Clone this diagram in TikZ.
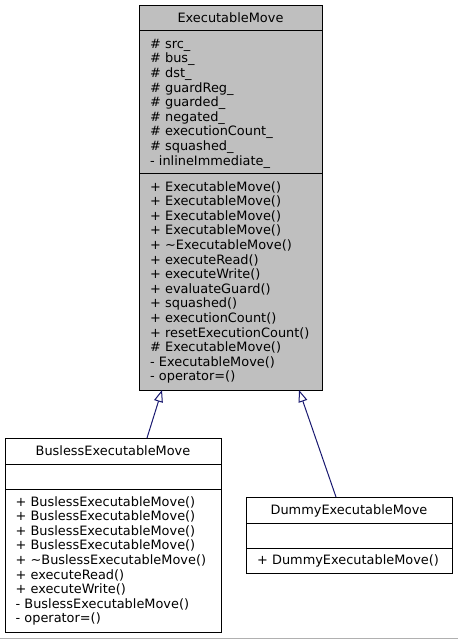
\documentclass[tikz,border=0pt]{standalone}
\usepackage{fontspec}
\setmainfont{DejaVu Sans}
\usetikzlibrary{arrows.meta}
\definecolor{edgeblue}{RGB}{25,25,112}
\definecolor{hilite}{RGB}{191,191,191}
\definecolor{bottomline}{RGB}{176,176,176}
\begin{document}
\begin{tikzpicture}[x=1pt,y=-1pt,
  box/.style={draw=black, line width=1pt, inner sep=0pt, anchor=north west},
  lbl/.style={inner sep=0pt, anchor=base west, font=\fontsize{12.9}{14.6}\selectfont},
  ttl/.style={inner sep=0pt, anchor=base, font=\fontsize{12.9}{14.6}\selectfont},
  sep/.style={draw=black, line width=1pt},
  inh/.style={draw=edgeblue, line width=1pt, -{Triangle[length=12pt,width=9pt,fill=white]}}]
\useasboundingbox (0,0) rectangle (458,639);
% main class
\node[box, fill=hilite, minimum width=183pt, minimum height=385pt] (main) at (139,5) {};
\draw[sep] (139,31) -- (322,31);
\draw[sep] (139,174) -- (322,174);
\node[ttl] (mt) at (230.5,22.7) {ExecutableMove};
\foreach \t [count=\i from 0] in {\# src\_,\# bus\_,\# dst\_,\# guardReg\_,\# guarded\_,\# negated\_,\# executionCount\_,\# squashed\_,- inlineImmediate\_}
  \node[lbl] (a\i) at (150,48.3+14.6*\i) {\t};
\foreach \t [count=\i from 0] in {+ ExecutableMove(),+ ExecutableMove(),+ ExecutableMove(),+ ExecutableMove(),+ \textasciitilde ExecutableMove(),+ executeRead(),+ executeWrite(),+ evaluateGuard(),+ squashed(),+ executionCount(),+ resetExecutionCount(),\# ExecutableMove(),- ExecutableMove(),- operator=()}
  \node[lbl] (m\i) at (150,191.1+14.6*\i) {\t};
% busless
\node[box, fill=white, minimum width=216pt, minimum height=194pt] (busless) at (5,438) {};
\draw[sep] (5,464) -- (221,464);
\draw[sep] (5,489) -- (221,489);
\node[ttl] (bt) at (113,455.5) {BuslessExecutableMove};
\foreach \t [count=\i from 0] in {+ BuslessExecutableMove(),+ BuslessExecutableMove(),+ BuslessExecutableMove(),+ BuslessExecutableMove(),+ \textasciitilde BuslessExecutableMove(),+ executeRead(),+ executeWrite(),- BuslessExecutableMove(),- operator=()}
  \node[lbl] (b\i) at (15.5,506.1+14.6*\i) {\t};
% dummy
\node[box, fill=white, minimum width=206pt, minimum height=76pt] (dummy) at (246,497) {};
\draw[sep] (246,523) -- (452,523);
\draw[sep] (246,548) -- (452,548);
\node[ttl] (dt) at (349,514.5) {DummyExecutableMove};
\node[lbl] (d0) at (257,564.5) {+ DummyExecutableMove()};
% inheritance
\coordinate (t1) at (162,390);
\coordinate (s1) at (147,438);
\coordinate (t2) at (299,390);
\coordinate (s2) at (336,497);
\draw[inh] (s1) -- (t1);
\draw[inh] (s2) -- (t2);
% bottom rule of the image
\draw[draw=bottomline, line width=1pt] (0,638.5) -- (458,638.5);
\end{tikzpicture}
\end{document}
